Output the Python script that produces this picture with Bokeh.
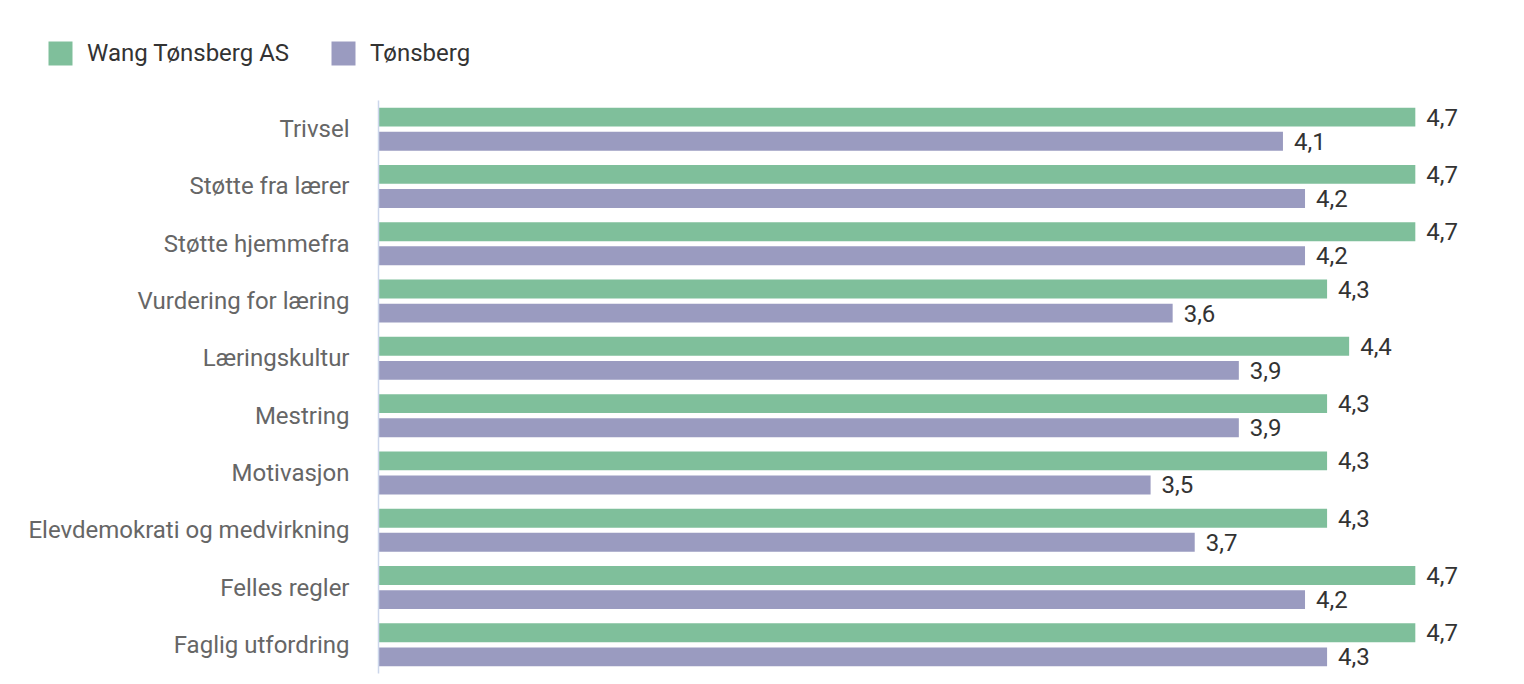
from bokeh.plotting import figure
from bokeh.models import ColumnDataSource, Range1d, Legend, LegendItem
from bokeh.transform import dodge
from bokeh.core.properties import value
from bokeh.embed import file_html
from bokeh.resources import INLINE

categories = ["Trivsel", "Støtte fra lærer", "Støtte hjemmefra", "Vurdering for læring",
              "Læringskultur", "Mestring", "Motivasjon", "Elevdemokrati og medvirkning",
              "Felles regler", "Faglig utfordring"]
series_names = ["Wang Tønsberg AS", "Tønsberg"]
wang = [4.7, 4.7, 4.7, 4.3, 4.4, 4.3, 4.3, 4.3, 4.7, 4.7]
tonsberg = [4.1, 4.2, 4.2, 3.6, 3.9, 3.9, 3.5, 3.7, 4.2, 4.3]
colors = ["#7FBF9B", "#9A9BC0"]

FONT = "Roboto"

# layout (pixels)
W, H = 1516, 676
AXIS_X = 378          # pixel position of value 0
PX_PER_UNIT = 220.6   # pixels per value unit
BAND_PX = 57.3        # pixels per category band
PLOT_TOP = 100        # pixel top of first band
n = len(categories)

ypos = [n - 1 - i + 0.5 for i in range(n)]   # category band centres (top to bottom)

src = ColumnDataSource(dict(
    cat=categories,
    y=ypos,
    wang=wang,
    tons=tonsberg,
    wang_lbl=[f"{v:.1f}".replace(".", ",") for v in wang],
    tons_lbl=[f"{v:.1f}".replace(".", ",") for v in tonsberg],
))

x_start = -AXIS_X / PX_PER_UNIT
x_end = (W - AXIS_X) / PX_PER_UNIT
y_end = n + PLOT_TOP / BAND_PX
y_start = n - (H - PLOT_TOP) / BAND_PX

p = figure(width=W, height=H, output_backend="svg", toolbar_location=None,
           x_range=Range1d(x_start, x_end), y_range=Range1d(y_start, y_end),
           min_border_left=0, min_border_right=0, min_border_top=0, min_border_bottom=0)
p.outline_line_color = None
p.background_fill_color = "white"
p.border_fill_color = "white"
p.axis.visible = False
p.grid.visible = False

r1 = p.hbar(y=dodge("y", 0.21), right="wang", left=0, height=0.33,
            source=src, fill_color=colors[0], line_color=None)
r2 = p.hbar(y=dodge("y", -0.21), right="tons", left=0, height=0.33,
            source=src, fill_color=colors[1], line_color=None)

p.text(x="wang", y=dodge("y", 0.21), text="wang_lbl", source=src,
       x_offset=11, text_baseline="middle", text_align="left",
       text_font=value(FONT), text_font_size="24px", text_color="#333333")
p.text(x="tons", y=dodge("y", -0.21), text="tons_lbl", source=src,
       x_offset=11, text_baseline="middle", text_align="left",
       text_font=value(FONT), text_font_size="24px", text_color="#333333")

# category axis: line + labels
p.segment(x0=[0], y0=[0], x1=[0], y1=[n], line_color="#CCD6EB", line_width=1.5)
p.text(x=0, y="y", text="cat", source=src, x_offset=-29,
       text_baseline="middle", text_align="right",
       text_font=value(FONT), text_font_size="24px", text_color="#666666")

legend = Legend(items=[LegendItem(label=series_names[0], renderers=[r1]),
                       LegendItem(label=series_names[1], renderers=[r2])],
                orientation="horizontal", location=(45, H - 68),
                glyph_width=30, glyph_height=30, label_standoff=12, spacing=39,
                padding=0, margin=0, border_line_color=None, background_fill_alpha=0,
                label_text_font=FONT, label_text_font_size="24px", label_text_color="#333333",
                label_height=30)
p.add_layout(legend, "center")

open("out.html", "w").write(file_html(p, INLINE))
